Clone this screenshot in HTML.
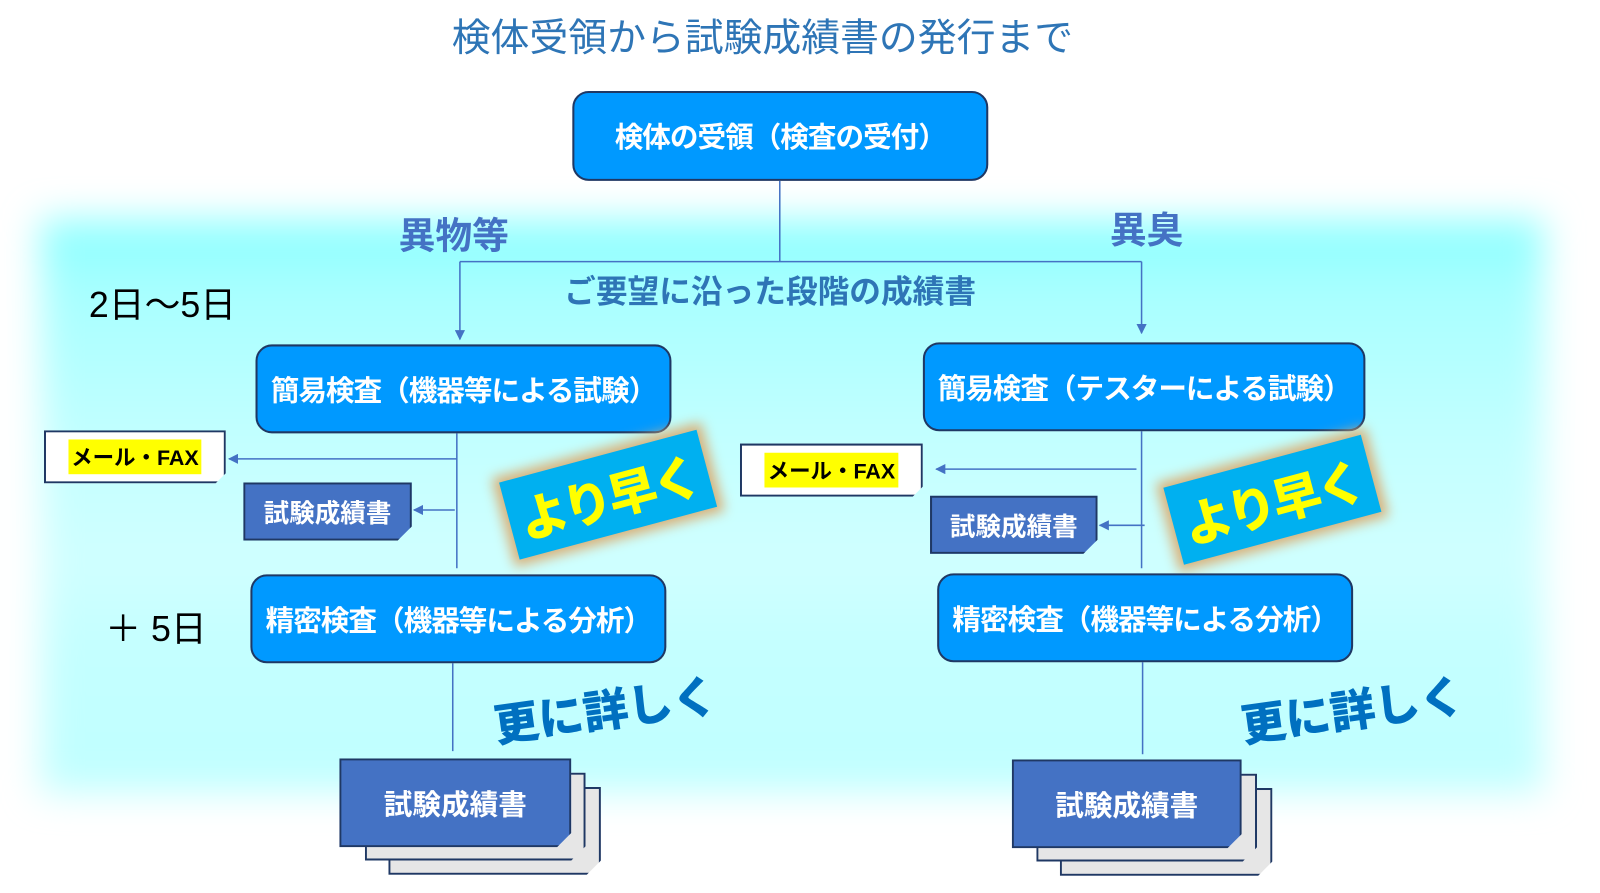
<!DOCTYPE html>
<html><head><meta charset="utf-8"><style>
body{margin:0;width:1600px;height:874px;position:relative;overflow:hidden;background:#fff;font-family:"Liberation Sans","Noto Sans CJK JP",sans-serif}
#w{position:absolute;left:0;top:0;width:1566px;height:855px;transform:scale(1.022);transform-origin:0 0}
.a{position:absolute}
.band{position:absolute;left:40px;top:215px;width:1470px;height:560px;background:linear-gradient(#8ff 0%,#a8ffff 12%,#c4ffff 40%,#d0ffff 60%,#c4ffff 75%,#c0ffff 100%);filter:blur(18px)}
.box{position:absolute;background:#0099ff;border:2px solid #1f3864;border-radius:16px;color:#fff;font-weight:bold;font-size:28px;display:flex;align-items:center;justify-content:center;box-sizing:border-box;white-space:nowrap;font-family:"Noto Sans CJK JP",sans-serif;letter-spacing:-1px}
.doc{position:absolute;background:#4472c4;border:2px solid #1f3864;color:#fff;font-weight:bold;display:flex;align-items:center;justify-content:center;box-sizing:border-box;clip-path:polygon(0 0,100% 0,100% calc(100% - 14px),calc(100% - 14px) 100%,0 100%)}
.gray{position:absolute;background:#e6e6e6;border:2px solid #1f3864;box-sizing:border-box;clip-path:polygon(0 0,100% 0,100% calc(100% - 14px),calc(100% - 14px) 100%,0 100%)}
.mail{position:absolute;background:#fff;border:2px solid #1f3864;box-sizing:border-box;display:flex;align-items:center;justify-content:center;font-weight:bold;font-size:21px;clip-path:polygon(0 0,100% 0,100% calc(100% - 10px),calc(100% - 10px) 100%,0 100%)}
.mail span{background:#ff0;padding:2px 3px}
.fast{position:absolute;width:200px;height:78px;background:#00b0f0;color:#ff0;font-weight:900;font-size:48px;display:flex;align-items:center;justify-content:center;box-shadow:0 0 12px 6px #d9b27a;transform:rotate(-15deg);white-space:nowrap;letter-spacing:-3px}
.more{position:absolute;color:#0070c0;font-weight:900;font-size:44px;transform:rotate(-8deg);white-space:nowrap}
</style></head><body><div id="w">
<div class="band"></div>
<div class="a" style="left:442px;top:6px;font-size:38px;color:#2e75b6;white-space:nowrap">検体受領から試験成績書の発行まで</div>
<div class="box" style="left:560px;top:89px;width:407px;height:88px">検体の受領（検査の受付）</div>
<svg class="a" style="left:0;top:0" width="1600" height="874">
<defs><marker id="m" markerWidth="10" markerHeight="10" refX="9" refY="5" orient="auto" markerUnits="userSpaceOnUse"><path d="M0,0 L10,5 L0,10z" fill="#4472c4"/></marker></defs>
<g stroke="#4472c4" stroke-width="1.5" fill="none">
<line x1="763" y1="177" x2="763" y2="256"/>
<line x1="450" y1="256" x2="1117" y2="256"/>
<line x1="450" y1="256" x2="450" y2="332" marker-end="url(#m)"/>
<line x1="1117" y1="256" x2="1117" y2="326" marker-end="url(#m)"/>
<line x1="447" y1="424" x2="447" y2="556"/>
<line x1="447" y1="449" x2="224" y2="449" marker-end="url(#m)"/>
<line x1="445" y1="499" x2="405" y2="499" marker-end="url(#m)"/>
<line x1="1117" y1="422" x2="1117" y2="556"/>
<line x1="1112" y1="459" x2="916" y2="459" marker-end="url(#m)"/>
<line x1="1120" y1="514" x2="1076" y2="514" marker-end="url(#m)"/>
<line x1="443" y1="649" x2="443" y2="735"/>
<line x1="1118" y1="648" x2="1118" y2="738"/>
</g></svg>
<div class="a" style="left:390px;top:202px;font-size:36px;font-weight:bold;color:#4472c4">異物等</div>
<div class="a" style="left:1086px;top:197px;font-size:36px;font-weight:bold;color:#4472c4">異臭</div>
<div class="a" style="left:552px;top:260px;font-size:31px;font-weight:bold;color:#2e75b6;white-space:nowrap">ご要望に沿った段階の成績書</div>
<div class="a" style="left:87px;top:270px;font-size:35px;white-space:nowrap">2日～5日</div>
<div class="a" style="left:103px;top:587px;font-size:35px;white-space:nowrap">＋ 5日</div>
<div class="box" style="left:250px;top:337px;width:407px;height:87px">簡易検査（機器等による試験）</div>
<div class="box" style="left:903px;top:335px;width:433px;height:87px">簡易検査（テスターによる試験）</div>
<div class="mail" style="left:43px;top:421px;width:178px;height:52px"><span>メール・FAX</span></div>
<div class="mail" style="left:724px;top:434px;width:179px;height:52px"><span>メール・FAX</span></div>
<div class="doc" style="left:238px;top:472px;width:165px;height:57px;font-size:25px">試験成績書</div>
<div class="doc" style="left:910px;top:485px;width:164px;height:57px;font-size:25px">試験成績書</div>
<div class="fast" style="left:495px;top:445px">より早く</div>
<div class="fast" style="left:1145px;top:450px">より早く</div>
<div class="box" style="left:245px;top:562px;width:407px;height:87px">精密検査（機器等による分析）</div>
<div class="box" style="left:917px;top:561px;width:407px;height:87px">精密検査（機器等による分析）</div>
<div class="more" style="left:482px;top:660px">更に詳しく</div>
<div class="more" style="left:1213px;top:660px">更に詳しく</div>
<div class="gray" style="left:380px;top:770px;width:208px;height:86px"></div>
<div class="gray" style="left:357px;top:756px;width:216px;height:86px"></div>
<div class="doc" style="left:332px;top:742px;width:227px;height:87px;font-size:28px">試験成績書</div>
<div class="gray" style="left:1037px;top:771px;width:208px;height:86px"></div>
<div class="gray" style="left:1014px;top:757px;width:216px;height:86px"></div>
<div class="doc" style="left:990px;top:743px;width:225px;height:87px;font-size:28px">試験成績書</div>
</div></body></html>
